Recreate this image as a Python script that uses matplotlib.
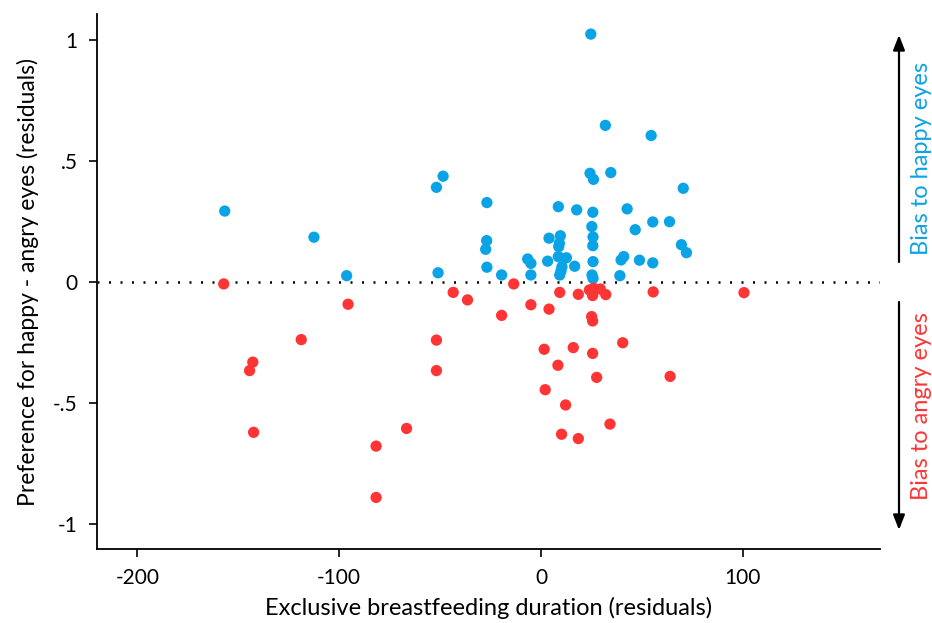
import matplotlib
matplotlib.use("Agg")
import matplotlib.pyplot as plt

plt.rcParams['font.family'] = ['Lato', 'DejaVu Sans']

blue_x = [-156.7, -112.5, -96.3, -51.8, -48.5, -51.0, -26.8, -26.9, -27.4, -26.8, -19.5, -6.6, -5.0, -5.0,
          3.3, 4.0, 8.6, 8.6, 8.8, 9.1, 9.3, 9.6, 9.9, 10.4, 12.6, 16.7, 17.7, 24.3, 24.7, 25.2, 25.3,
          25.7, 25.7, 25.8, 25.8, 25.8, 26.0, 31.9, 34.6, 39.1, 39.7, 41.0, 42.7, 46.7, 48.8, 54.6, 55.4,
          55.4, 63.7, 69.6, 70.5, 72.1]
blue_y = [0.293, 0.185, 0.026, 0.391, 0.437, 0.038, 0.328, 0.171, 0.135, 0.061, 0.029, 0.095, 0.077, 0.029,
          0.086, 0.181, 0.311, 0.105, 0.146, 0.160, 0.029, 0.191, 0.045, 0.063, 0.100, 0.065, 0.298, 0.449,
          1.024, 0.229, 0.029, 0.288, 0.150, 0.186, 0.084, 0.015, 0.424, 0.647, 0.452, 0.026, 0.091, 0.105,
          0.302, 0.216, 0.090, 0.605, 0.248, 0.079, 0.249, 0.154, 0.387, 0.121]

red_x = [-157.2, -95.6, -43.5, -36.4, -118.8, -51.8, -142.8, -144.4, -51.8, -142.4, -66.6, -81.7, -81.7,
         -13.5, 9.3, 18.5, 24.0, 26.1, 29.4, 25.6, 32.1, 55.6, -5.0, 4.0, -19.5, 25.1, 25.6, 1.6, 16.0,
         25.6, 40.5, 8.4, 27.6, 64.0, 2.1, 12.2, 34.2, 10.2, 18.5, 100.6]
red_y = [-0.008, -0.092, -0.043, -0.074, -0.238, -0.240, -0.331, -0.366, -0.366, -0.621, -0.605, -0.678, -0.890,
         -0.008, -0.043, -0.051, -0.033, -0.026, -0.029, -0.056, -0.052, -0.041, -0.094, -0.112, -0.138,
         -0.143, -0.161, -0.278, -0.271, -0.295, -0.251, -0.344, -0.394, -0.390, -0.445, -0.508, -0.587,
         -0.629, -0.647, -0.044]

x_ticks = [-200, -100, 0, 100]
x_ticklabels = ['-200', '-100', '0', '100']
y_ticks = [1, 0.5, 0, -0.5, -1]
y_ticklabels = ['1', '.5', '0', '-.5', '-1']

BLUE = '#0AA3E6'
RED = '#FF3535'

fig = plt.figure(figsize=(9.32, 6.23), dpi=100)
ax = fig.add_axes([97/932, 1 - 549/623, (880-97)/932, (549-14)/623])

ax.axhline(0, color='black', lw=1.8, ls=(0, (0.8, 3.8)), zorder=1)
ax.scatter(blue_x, blue_y, s=66, color=BLUE, edgecolors='none', zorder=2)
ax.scatter(red_x, red_y, s=66, color=RED, edgecolors='none', zorder=2)

ax.set_xlim(-220, 168)
ax.set_ylim(-1.103, 1.107)
ax.set_xticks(x_ticks)
ax.set_xticklabels(x_ticklabels)
ax.set_yticks(y_ticks)
ax.set_yticklabels(y_ticklabels)
for s in ['top', 'right']:
    ax.spines[s].set_visible(False)
for s in ['left', 'bottom']:
    ax.spines[s].set_linewidth(1.3)
ax.tick_params(axis='both', labelsize=15, width=1.2, length=6, direction='out', pad=8)
ax.set_xlabel('Exclusive breastfeeding duration (residuals)', fontsize=17, labelpad=6)
ax.set_ylabel('Preference for happy - angry eyes (residuals)', fontsize=16.5, labelpad=10)

H = 623
ax.annotate('', xy=(899, H - 35), xytext=(899, H - 262), xycoords='figure pixels',
            textcoords='figure pixels',
            arrowprops=dict(arrowstyle='-|>,head_length=0.9,head_width=0.35', color='black', lw=1.6,
                            shrinkA=0, shrinkB=0), annotation_clip=False)
ax.annotate('', xy=(899, H - 530), xytext=(899, H - 302), xycoords='figure pixels',
            textcoords='figure pixels',
            arrowprops=dict(arrowstyle='-|>,head_length=0.9,head_width=0.35', color='black', lw=1.6,
                            shrinkA=0, shrinkB=0), annotation_clip=False)
fig.text(921/932, 1 - 158/623, 'Bias to happy eyes', rotation=90, color=BLUE, fontsize=17,
         ha='center', va='center')
fig.text(921/932, 1 - 406/623, 'Bias to angry eyes', rotation=90, color=RED, fontsize=17,
         ha='center', va='center')

fig.savefig('out.png', dpi=100)
